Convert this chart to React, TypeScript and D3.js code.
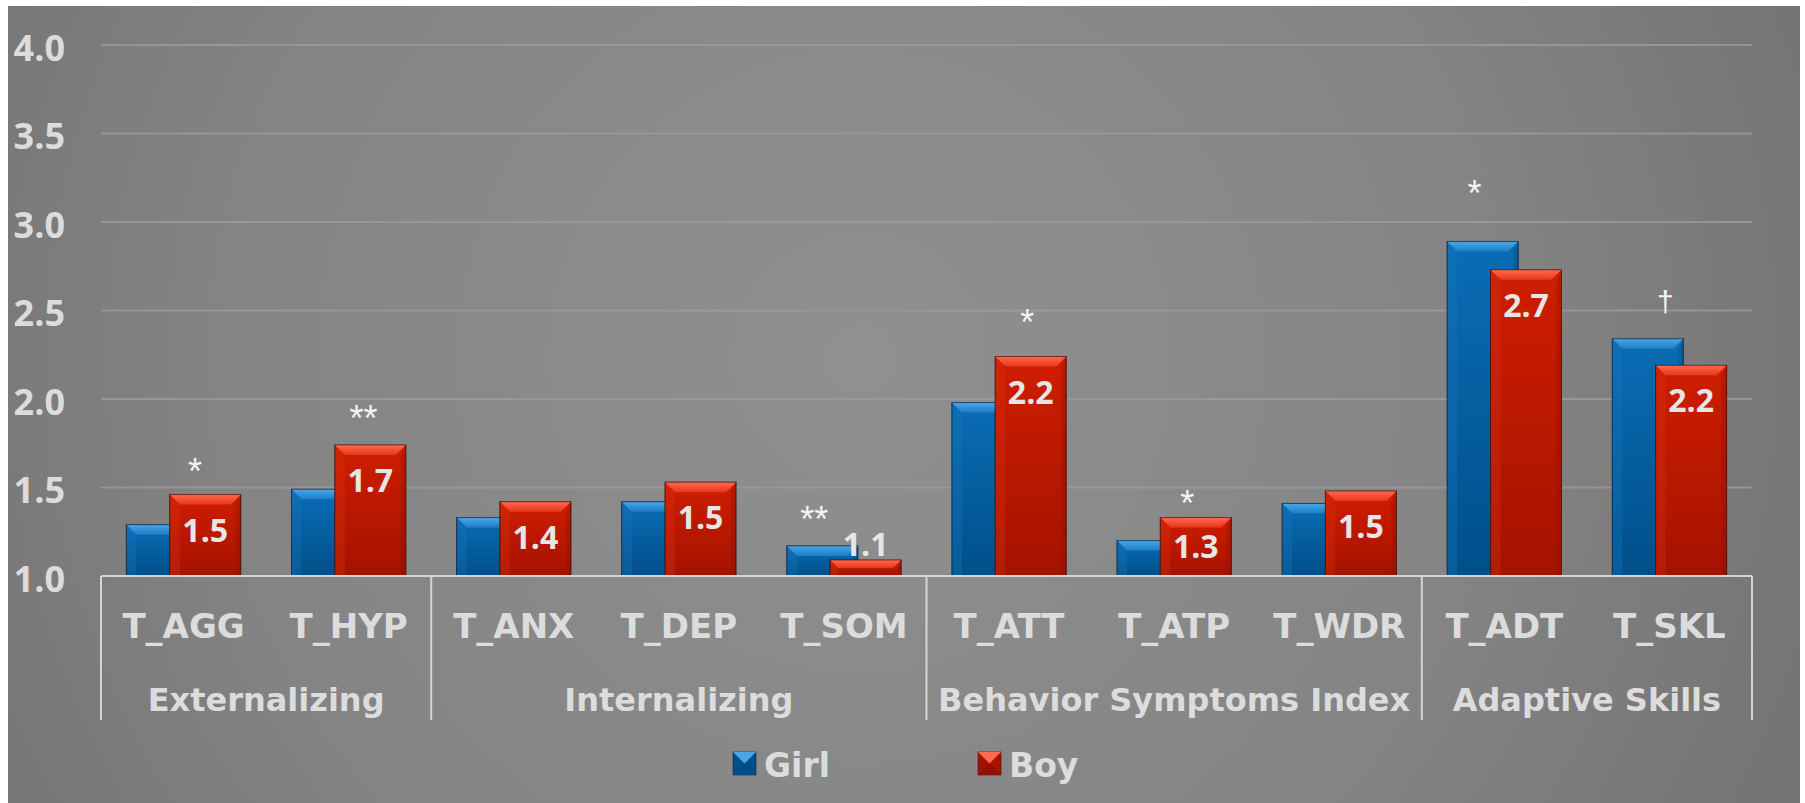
import React from "react";
import * as d3 from "d3";

// Scale scores by sex for each BASC subscale, grouped by composite
const categories = ["T_AGG", "T_HYP", "T_ANX", "T_DEP", "T_SOM", "T_ATT", "T_ATP", "T_WDR", "T_ADT", "T_SKL"];
const groups = ["Externalizing", "Internalizing", "Behavior Symptoms Index", "Adaptive Skills"];
const groupSizes = [2, 3, 3, 2];
const girlValues = [1.29, 1.49, 1.33, 1.42, 1.17, 1.98, 1.2, 1.41, 2.89, 2.34];
const boyValues = [1.46, 1.74, 1.42, 1.53, 1.09, 2.24, 1.33, 1.48, 2.73, 2.19];
const yTicks = [1.0, 1.5, 2.0, 2.5, 3.0, 3.5, 4.0];
const seriesNames = ["Girl", "Boy"];

// Significance markers: category, symbol, level (in score units), horizontal spot within the band (0..1)
const markerCategories = ["T_AGG", "T_HYP", "T_SOM", "T_ATT", "T_ATP", "T_ADT", "T_SKL"];
const markerSymbols = ["*", "**", "**", "*", "*", "*", "†"];
const markerLevels = [1.63, 1.93, 1.36, 2.47, 1.45, 3.2, 2.55];
const markerSpots = [0.57, 0.59, 0.32, 0.61, 0.58, 0.32, 0.475];

const W = 1805;
const H = 803;
const plot = { left: 101, right: 1752, top: 45, bottom: 576 };
const FONT = "'DejaVu Sans', sans-serif";
const NUM_FONT = "'Open Sans', sans-serif";
const TEXT = "#dcdcdc";

const x = d3.scaleBand<string>().domain(categories).range([plot.left, plot.right]).padding(0);
const y = d3.scaleLinear().domain([1, 4]).range([plot.bottom, plot.top]);

const barW = x.bandwidth() * 0.43;
const overlap = barW * 0.39;
const groupW = barW * 2 - overlap;

const palettes = {
  Girl: {
    top: "#0a6db5",
    bottom: "#004f8a",
    bevelTop: "#4aa6e8",
    bevelBottom: "#1a7fc6",
    left: "#1676bd",
    right: "#004a82",
    stroke: "rgba(20,30,50,0.55)",
  },
  Boy: {
    top: "#cf1e00",
    bottom: "#a41200",
    bevelTop: "#ff6a50",
    bevelBottom: "#e8361a",
    left: "#d8300f",
    right: "#8c1000",
    stroke: "rgba(60,15,5,0.55)",
  },
};

type Pal = typeof palettes.Girl;

function BevelBar({ x0, y0, w, h, pal, id }: { x0: number; y0: number; w: number; h: number; pal: Pal; id: string }) {
  const b = Math.min(10, h / 2, w / 2);
  return (
    <g>
      <rect x={x0} y={y0} width={w} height={h} fill={`url(#body-${id})`} stroke={pal.stroke} strokeWidth={1} />
      <polygon
        points={`${x0},${y0} ${x0 + w},${y0} ${x0 + w - b},${y0 + b} ${x0 + b},${y0 + b}`}
        fill={`url(#bevel-${id})`}
      />
      <polygon points={`${x0},${y0} ${x0 + b},${y0 + b} ${x0 + b},${y0 + h} ${x0},${y0 + h}`} fill={pal.left} opacity={0.35} />
      <polygon
        points={`${x0 + w},${y0} ${x0 + w - b * 0.5},${y0 + b} ${x0 + w - b * 0.5},${y0 + h} ${x0 + w},${y0 + h}`}
        fill={pal.right}
        opacity={0.35}
      />
      <rect x={x0} y={y0} width={w} height={h} fill="none" stroke={pal.stroke} strokeWidth={1} />
    </g>
  );
}

function LegendSwatch({ x0, y0, s, pal }: { x0: number; y0: number; s: number; pal: Pal }) {
  const c = s / 2;
  return (
    <g>
      <rect x={x0} y={y0} width={s} height={s} fill={pal.bottom} stroke={pal.stroke} strokeWidth={1} />
      <polygon points={`${x0},${y0} ${x0 + s},${y0} ${x0 + c},${y0 + c}`} fill={pal.bevelTop} />
      <polygon points={`${x0},${y0 + s} ${x0 + s},${y0 + s} ${x0 + c},${y0 + c}`} fill={pal.right} opacity={0.8} />
    </g>
  );
}

export default function App() {
  // group boundaries in category index units
  const bounds: number[] = [0];
  groupSizes.forEach((n, i) => bounds.push(bounds[i] + n));
  const step = x.step();
  const boundX = (i: number) => plot.left + bounds[i] * step;

  return (
    <svg
      width={W}
      height={H}
      style={{ position: "absolute", left: 0, top: 0, display: "block" }}
      fontFamily={FONT}
    >
      <defs>
        <radialGradient id="bg" gradientUnits="userSpaceOnUse" cx={860} cy={360} r={1050}>
          <stop offset="0" stopColor="#909090" />
          <stop offset="0.6" stopColor="#848484" />
          <stop offset="1" stopColor="#727272" />
        </radialGradient>
        {(["Girl", "Boy"] as const).map((k) => (
          <React.Fragment key={k}>
            <linearGradient id={`body-${k}`} x1="0" y1="0" x2="0" y2="1">
              <stop offset="0" stopColor={palettes[k].top} />
              <stop offset="1" stopColor={palettes[k].bottom} />
            </linearGradient>
            <linearGradient id={`bevel-${k}`} x1="0" y1="0" x2="0" y2="1">
              <stop offset="0" stopColor={palettes[k].bevelTop} />
              <stop offset="1" stopColor={palettes[k].bevelBottom} />
            </linearGradient>
          </React.Fragment>
        ))}
      </defs>

      <rect x={8} y={6} width={1792} height={H - 6} fill="url(#bg)" />

      {/* gridlines */}
      {yTicks
        .filter((t) => t > 1)
        .map((t) => (
          <line key={t} x1={plot.left} x2={plot.right} y1={y(t)} y2={y(t)} stroke="#9c9c9c" strokeWidth={2} opacity={0.8} />
        ))}

      {/* y tick labels */}
      {yTicks.map((t) => (
        <text
          key={t}
          x={65}
          y={y(t) + 2}
          textAnchor="end"
          dominantBaseline="central"
          fontFamily={NUM_FONT}
          fontSize={36}
          fontWeight="bold"
          fill={TEXT}
        >
          {d3.format(".1f")(t)}
        </text>
      ))}

      {/* bars */}
      {categories.map((c, i) => {
        const cx = (x(c) as number) + step / 2;
        const gx = cx - groupW / 2;
        const bx = gx + barW - overlap;
        return (
          <g key={c}>
            <BevelBar x0={gx} y0={y(girlValues[i])} w={barW} h={y(1) - y(girlValues[i])} pal={palettes.Girl} id="Girl" />
            <BevelBar x0={bx} y0={y(boyValues[i])} w={barW} h={y(1) - y(boyValues[i])} pal={palettes.Boy} id="Boy" />
          </g>
        );
      })}

      {/* axis line */}
      <line x1={plot.left} x2={plot.right} y1={plot.bottom} y2={plot.bottom} stroke="#d4d4d4" strokeWidth={2} />

      {/* boy value labels: inside the bar end, or just above it when the bar is too short */}
      {categories.map((c, i) => {
        const cx = (x(c) as number) + step / 2;
        const bx = cx - groupW / 2 + barW - overlap + barW / 2;
        const top = y(boyValues[i]);
        const h = y(1) - top;
        const capH = 23;
        const baseline = h > 40 ? top + Math.min(24, (h - capH) / 2) + capH : top - 4;
        return (
          <text
            key={c}
            x={bx}
            y={baseline}
            textAnchor="middle"
            fontFamily={NUM_FONT}
            fontSize={32}
            fontWeight="bold"
            fill="#e6e6e6"
          >
            {d3.format(".1f")(boyValues[i])}
          </text>
        );
      })}

      {/* significance markers */}
      {markerCategories.map((c, i) => (
        <text
          key={c}
          x={(x(c) as number) + step * markerSpots[i]}
          y={y(markerLevels[i])}
          textAnchor="middle"
          dominantBaseline="central"
          fontFamily="'Liberation Sans', sans-serif"
          fontSize={markerSymbols[i] === "†" ? 30 : 36}
          fill="#f4f4f4"
          dy={markerSymbols[i] === "†" ? 0 : 7}
        >
          {markerSymbols[i]}
        </text>
      ))}

      {/* category labels */}
      {categories.map((c) => (
        <text
          key={c}
          x={(x(c) as number) + step / 2}
          y={638}
          textAnchor="middle"
          fontSize={34}
          fontWeight="bold"
          fill={TEXT}
        >
          {c}
        </text>
      ))}

      {/* group separators and labels */}
      {bounds.map((b, i) => (
        <line key={i} x1={boundX(i)} x2={boundX(i)} y1={plot.bottom} y2={720} stroke="#d4d4d4" strokeWidth={2} />
      ))}
      {groups.map((g, i) => (
        <text
          key={g}
          x={(boundX(i) + boundX(i + 1)) / 2}
          y={711}
          textAnchor="middle"
          fontSize={32}
          fontWeight="bold"
          fill={TEXT}
        >
          {g}
        </text>
      ))}

      {/* legend */}
      {seriesNames.map((s, i) => {
        const lx = i === 0 ? 733 : 978;
        return (
          <g key={s}>
            <LegendSwatch x0={lx} y0={752} s={23} pal={palettes[s as "Girl" | "Boy"]} />
            <text x={lx + 31} y={777} fontSize={33} fontWeight="bold" fill={TEXT}>
              {s}
            </text>
          </g>
        );
      })}
    </svg>
  );
}
